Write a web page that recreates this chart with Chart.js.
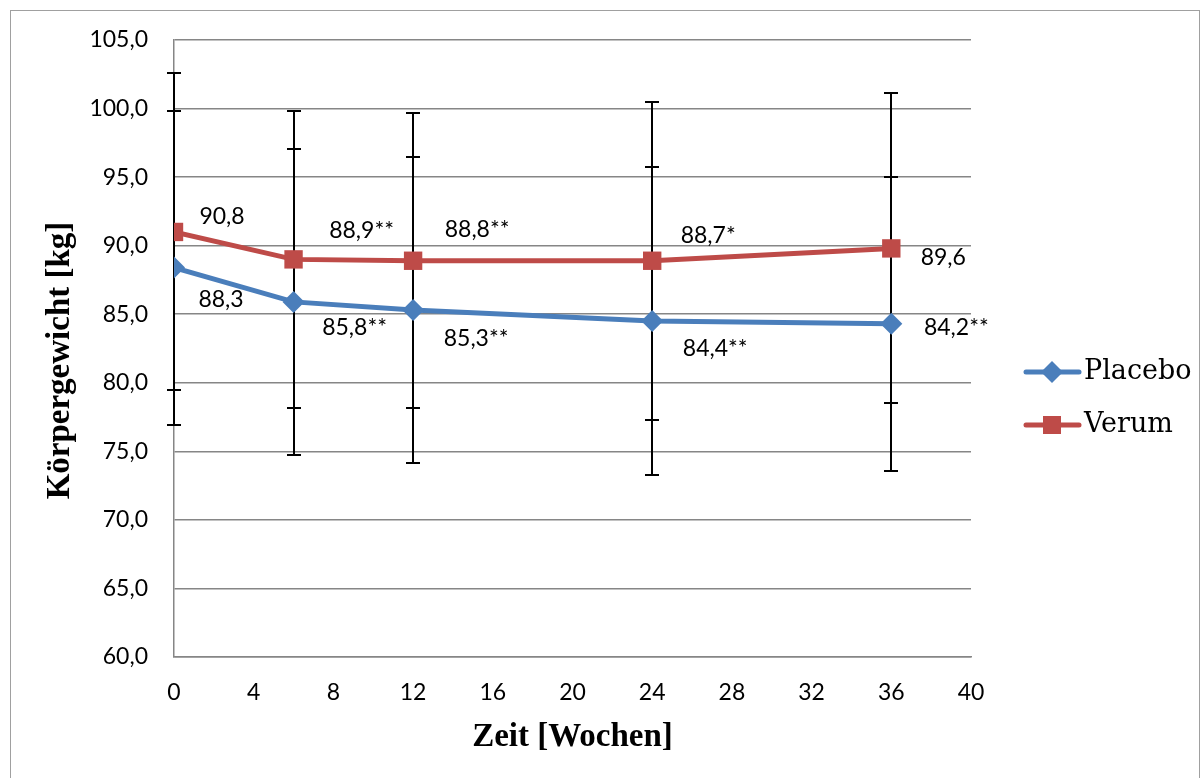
<!DOCTYPE html>
<html>
<head>
<meta charset="utf-8">
<script src="https://cdn.jsdelivr.net/npm/chart.js@4"></script>
<style>
html,body{margin:0;padding:0;background:#fff;}
#myChart{position:absolute;left:0;top:0;}
</style>
</head>
<body>
<canvas id="myChart" width="1202" height="778"></canvas>
<script>
let wochen = [0, 6, 12, 24, 36];
let placebo = [88.4, 85.9, 85.3, 84.5, 84.3];
let verum = [91.0, 89.0, 88.9, 88.9, 89.8];
let placeboSD = [11.45, 11.16, 11.16, 11.23, 10.71];
let verumSD = [11.56, 10.81, 10.74, 11.6, 11.3];
let placeboText = ['88,3', '85,8**', '85,3**', '84,4**', '84,2**'];
let verumText = ['90,8', '88,9**', '88,8**', '88,7*', '89,6'];
let yTicks = [60, 65, 70, 75, 80, 85, 90, 95, 100, 105];
let xTicks = [0, 4, 8, 12, 16, 20, 24, 28, 32, 36, 40];

const blau = '#4A7EBB';
const rot = '#BE4B48';
const grau = '#868686';
const titelFont = 'bold 33px "Liberation Serif"';

// Abstand der Beschriftung zum Punkt (dx, dy)
const verumPos = [[48, -15], [68, -29], [64, -31], [56, -25], [52, 9]];
const placeboPos = [[47, 32], [61, 26], [63, 28], [63, 28], [65, 4]];

function punkte(werte) {
  let d = [];
  for (let i = 0; i < werte.length; i++) {
    d.push({x: wochen[i], y: werte[i]});
  }
  return d;
}

const rahmen = {
  id: 'rahmen',
  beforeDraw(chart) {
    const ctx = chart.ctx;
    ctx.save();
    ctx.strokeStyle = '#a0a0a0';
    ctx.lineWidth = 1;
    ctx.strokeRect(10.5, 10.5, 1189, 800);
    ctx.restore();
  }
};

const fehlerbalken = {
  id: 'fehlerbalken',
  beforeDatasetsDraw(chart) {
    const ctx = chart.ctx;
    const xs = chart.scales.x, ys = chart.scales.y;
    ctx.save();
    ctx.strokeStyle = '#000';
    ctx.lineWidth = 2;
    [[verum, verumSD], [placebo, placeboSD]].forEach(function (p) {
      let werte = p[0], sd = p[1];
      for (let i = 0; i < werte.length; i++) {
        let x = Math.round(xs.getPixelForValue(wochen[i]));
        let oben = Math.round(ys.getPixelForValue(werte[i] + sd[i]));
        let unten = Math.round(ys.getPixelForValue(werte[i] - sd[i]));
        ctx.beginPath();
        ctx.moveTo(x, oben); ctx.lineTo(x, unten);
        ctx.moveTo(x - 7, oben); ctx.lineTo(x + 7, oben);
        ctx.moveTo(x - 7, unten); ctx.lineTo(x + 7, unten);
        ctx.stroke();
      }
    });
    ctx.restore();
  }
};

const beschriftung = {
  id: 'beschriftung',
  afterDatasetsDraw(chart) {
    const ctx = chart.ctx;
    ctx.save();
    ctx.font = '23px Lato';
    ctx.fillStyle = '#000';
    ctx.textAlign = 'center';
    ctx.textBaseline = 'middle';
    [[1, verumText, verumPos], [0, placeboText, placeboPos]].forEach(function (p) {
      let meta = chart.getDatasetMeta(p[0]);
      meta.data.forEach(function (el, i) {
        ctx.fillText(p[1][i], el.x + p[2][i][0], el.y + p[2][i][1]);
      });
    });
    ctx.restore();
  }
};

// y-Achsentitel etwas unterhalb der Mitte, wie im Original
const yTitel = {
  id: 'yTitel',
  afterDraw(chart) {
    const ctx = chart.ctx;
    const area = chart.chartArea;
    ctx.save();
    ctx.translate(60, (area.top + area.bottom) / 2 + 12);
    ctx.rotate(-Math.PI / 2);
    ctx.font = titelFont;
    ctx.fillStyle = '#000';
    ctx.textAlign = 'center';
    ctx.textBaseline = 'middle';
    ctx.fillText('Körpergewicht [kg]', 0, 0);
    ctx.restore();
  }
};

const legende = {
  id: 'legende',
  afterDraw(chart) {
    const ctx = chart.ctx;
    ctx.save();
    const eintraege = [[chart.data.datasets[0], 372], [chart.data.datasets[1], 425]];
    eintraege.forEach(function (e) {
      let ds = e[0], y = e[1];
      ctx.strokeStyle = ds.borderColor;
      ctx.lineWidth = 5;
      ctx.lineCap = 'round';
      ctx.beginPath();
      ctx.moveTo(1026, y); ctx.lineTo(1079, y);
      ctx.stroke();
      ctx.fillStyle = ds.backgroundColor;
      ctx.beginPath();
      if (ds.pointStyle === 'rectRot') {
        ctx.moveTo(1052 - 11, y); ctx.lineTo(1052, y - 11);
        ctx.lineTo(1052 + 11, y); ctx.lineTo(1052, y + 11);
        ctx.closePath();
      } else {
        ctx.rect(1052 - 9, y - 9, 18, 18);
      }
      ctx.fill();
      ctx.fillStyle = '#000';
      ctx.font = '27px "DejaVu Serif"';
      ctx.textAlign = 'left';
      ctx.textBaseline = 'middle';
      ctx.fillText(ds.label, 1084, y);
    });
    ctx.restore();
  }
};

let ctx = document.getElementById('myChart').getContext('2d');
let chart = new Chart(ctx, {
  type: 'line',
  data: {
    datasets: [{
      label: 'Placebo',
      data: punkte(placebo),
      borderColor: blau,
      backgroundColor: blau,
      borderWidth: 5,
      pointStyle: 'rectRot',
      pointRadius: 11,
      pointBorderWidth: 0,
      tension: 0
    }, {
      label: 'Verum',
      data: punkte(verum),
      borderColor: rot,
      backgroundColor: rot,
      borderWidth: 5,
      pointStyle: 'rect',
      pointRadius: 13,
      pointBorderWidth: 0,
      tension: 0
    }]
  },
  options: {
    responsive: false,
    animation: false,
    devicePixelRatio: 1,
    layout: {
      padding: {left: 0, right: 231, top: 40, bottom: 0}
    },
    plugins: {
      legend: {display: false},
      tooltip: {enabled: false}
    },
    scales: {
      x: {
        type: 'linear',
        min: 0,
        max: 40,
        afterBuildTicks: function (s) { s.ticks = xTicks.map(v => ({value: v})); },
        afterFit: function (s) { s.height = 121; },
        grid: {display: false, drawTicks: false},
        border: {display: true, color: grau, width: 1.5},
        ticks: {
          padding: 22,
          color: '#000',
          font: {family: 'Lato', size: 23}
        },
        title: {
          display: true,
          text: 'Zeit [Wochen]',
          color: '#000',
          font: {family: 'Liberation Serif', size: 33, weight: 'bold'},
          padding: {top: 0, bottom: 21}
        }
      },
      y: {
        min: 60,
        max: 105,
        afterBuildTicks: function (s) { s.ticks = yTicks.map(v => ({value: v})); },
        afterFit: function (s) { s.width = 174; },
        grid: {color: grau, lineWidth: 1.5, drawTicks: false},
        border: {display: true, color: grau, width: 1.5},
        ticks: {
          padding: 26,
          color: '#000',
          font: {family: 'Lato', size: 23},
          callback: function (v) { return v.toFixed(1).replace('.', ','); }
        },
        title: {display: false}
      }
    }
  },
  plugins: [rahmen, fehlerbalken, beschriftung, yTitel, legende]
});
</script>
</body>
</html>
